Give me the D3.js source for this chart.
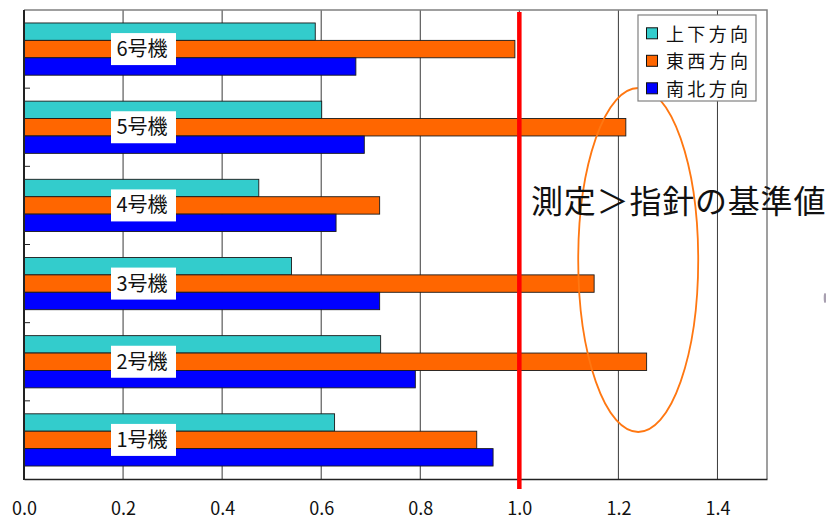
<!DOCTYPE html>
<html lang="ja">
<head>
<meta charset="utf-8">
<script src="https://cdn.jsdelivr.net/npm/d3@7"></script>
<style>
  html, body { margin: 0; padding: 0; background: #fff; }
  svg { display: block; font-family: "Noto Sans CJK JP", "Noto Sans", sans-serif; }
</style>
</head>
<body>
<svg id="chart" width="826" height="519"></svg>
<script>
// Units, listed top to bottom as drawn
const units = ["6号機", "5号機", "4号機", "3号機", "2号機", "1号機"];
// Measurement directions (legend order)
const directions = ["上下方向", "東西方向", "南北方向"];
const directionColors = ["#33CCCC", "#FF6600", "#0000FF"];
// Measured ratio for each unit, per direction
const verticalValues   = [0.588, 0.601, 0.474, 0.540, 0.720, 0.627];
const eastWestValues   = [0.991, 1.215, 0.718, 1.151, 1.257, 0.914];
const northSouthValues = [0.670, 0.687, 0.630, 0.718, 0.790, 0.947];
const xTicks = [0, 0.2, 0.4, 0.6, 0.8, 1.0, 1.2, 1.4];
const xMax = 1.5;
const guideValue = 1.0;
const noteText = "測定＞指針の基準値";

const seriesValues = [verticalValues, eastWestValues, northSouthValues];

const svg = d3.select("#chart");
const plot = { left: 24, top: 10, right: 767, bottom: 479 };

const x = d3.scaleLinear().domain([0, xMax]).range([plot.left, plot.right]);
const y = d3.scaleBand().domain(units).range([plot.top, plot.bottom])
  .paddingInner(0.332).paddingOuter(0.166);
const ySub = d3.scaleBand().domain(directions).range([0, y.bandwidth()]);
const yGroup = d3.scaleBand().domain(units).range([plot.top, plot.bottom]);

// vertical gridlines
svg.append("g")
  .selectAll("line")
  .data(xTicks.filter(t => t > 0))
  .join("line")
  .attr("x1", d => x(d)).attr("x2", d => x(d))
  .attr("y1", plot.top).attr("y2", plot.bottom)
  .attr("stroke", "#3a3a3a").attr("stroke-width", 1);

// plot frame: grey top and right edges
svg.append("path")
  .attr("d", `M${plot.left},${plot.top}H${plot.right}V${plot.bottom}`)
  .attr("fill", "none").attr("stroke", "#808080").attr("stroke-width", 1.5);

// bars
const groups = svg.append("g").selectAll("g")
  .data(units)
  .join("g")
  .attr("transform", d => `translate(0,${y(d)})`);

groups.selectAll("rect")
  .data((u, i) => directions.map((dir, k) => ({ dir, k, value: seriesValues[k][i] })))
  .join("rect")
  .attr("x", x(0))
  .attr("y", d => ySub(d.dir))
  .attr("width", d => x(d.value) - x(0))
  .attr("height", ySub.bandwidth())
  .attr("fill", d => directionColors[d.k])
  .attr("stroke", "#1a1a1a").attr("stroke-width", 0.9);

// unit labels in white boxes
const labels = svg.append("g").selectAll("g")
  .data(units)
  .join("g")
  .attr("transform", d => `translate(143,${y(d) + y.bandwidth() / 2})`);
labels.append("rect")
  .attr("x", -32).attr("y", -16).attr("width", 65).attr("height", 32)
  .attr("fill", "#fff");
labels.append("text")
  .attr("x", -1).attr("y", 7)
  .attr("text-anchor", "middle")
  .attr("font-size", 20).attr("fill", "#111")
  .text(d => d);

// left axis with inward ticks at group borders
svg.append("g")
  .selectAll("line")
  .data(units.slice(1))
  .join("line")
  .attr("x1", plot.left).attr("x2", plot.left + 6)
  .attr("y1", d => yGroup(d)).attr("y2", d => yGroup(d))
  .attr("stroke", "#222").attr("stroke-width", 1);
svg.append("line")
  .attr("x1", plot.left).attr("x2", plot.left)
  .attr("y1", plot.top).attr("y2", plot.bottom + 1)
  .attr("stroke", "#222").attr("stroke-width", 2);

// bottom axis
const xAxis = svg.append("g")
  .attr("transform", `translate(0,${plot.bottom})`)
  .call(d3.axisBottom(x).tickValues(xTicks).tickFormat(d3.format(".1f")).tickSize(0).tickPadding(23));
xAxis.select(".domain").attr("stroke", "#222").attr("stroke-width", 1.5);
xAxis.selectAll("text")
  .attr("font-size", 18).attr("fill", "#111")
  .attr("font-family", "'Noto Sans CJK JP', 'Noto Sans', sans-serif");

// reference line at the guideline value
svg.append("line")
  .attr("x1", x(guideValue)).attr("x2", x(guideValue))
  .attr("y1", plot.top + 2).attr("y2", plot.bottom + 10)
  .attr("stroke", "#FF0000").attr("stroke-width", 4.5);

// highlight ellipse around the exceeding bars
svg.append("ellipse")
  .attr("cx", x(1.24)).attr("cy", 260)
  .attr("rx", 60).attr("ry", 172)
  .attr("fill", "none").attr("stroke", "#FF7711").attr("stroke-width", 1.8);

// annotation
svg.append("text")
  .attr("x", 531).attr("y", 213)
  .attr("font-size", 32).attr("letter-spacing", 0.8)
  .attr("fill", "#111")
  .text(noteText);

// small grey mark at the right edge
svg.append("ellipse")
  .attr("cx", 825).attr("cy", 298).attr("rx", 1.3).attr("ry", 5)
  .attr("fill", "#a89fb0");

// legend
const legend = svg.append("g").attr("transform", "translate(638,15)");
legend.append("rect")
  .attr("x", 0).attr("y", 0).attr("width", 118).attr("height", 86)
  .attr("fill", "#fff").attr("stroke", "#808080").attr("stroke-width", 1.2);
const items = legend.selectAll("g.item")
  .data(directions)
  .join("g")
  .attr("class", "item")
  .attr("transform", (d, i) => `translate(0,${18.3 + i * 27.5})`);
items.append("rect")
  .attr("x", 8.5).attr("y", -5.5).attr("width", 11).attr("height", 11)
  .attr("fill", (d, i) => directionColors[i])
  .attr("stroke", "#111").attr("stroke-width", 1);
items.append("text")
  .attr("x", 28).attr("y", 7.5)
  .attr("font-size", 18).attr("fill", "#111")
  .attr("textLength", 82).attr("lengthAdjust", "spacing")
  .text(d => d);
</script>
</body>
</html>
